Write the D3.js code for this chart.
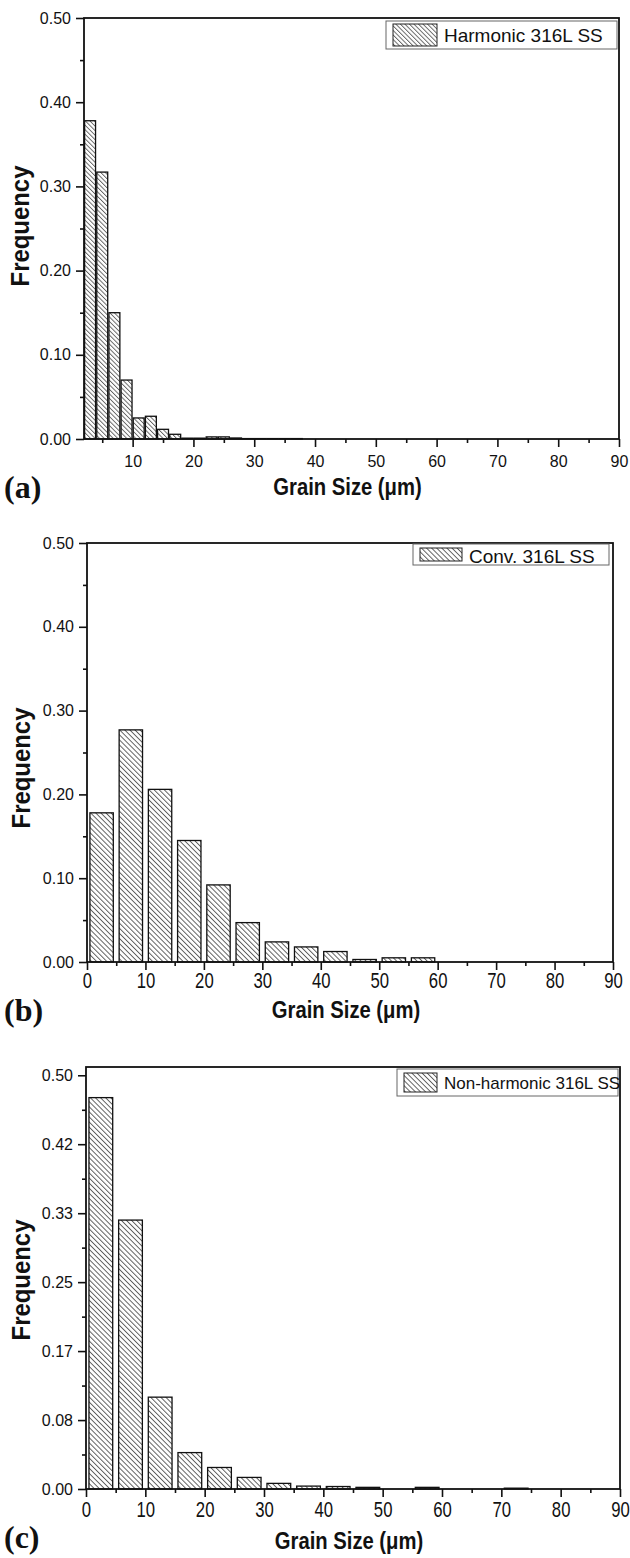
<!DOCTYPE html>
<html lang="en">
<head>
  <meta charset="UTF-8">
  <script src="https://d3js.org/d3.v7.min.js"></script>
  <title>Grain size distribution</title>
  <style>
    body { margin: 0; background: #fff; }
    svg { display: block; font-family: "Liberation Sans", Arial, sans-serif; }
  </style>
</head>
<body>
<svg id="chart" width="630" height="1558"></svg>
<script>
  // (a) harmonic 316L SS, 2 um bins
  const harmonicBins = [2, 4, 6, 8, 10, 12, 14, 16, 18, 20, 22, 24, 26, 28, 30, 32, 34, 36];
  const harmonicFreq = [0.378, 0.317, 0.150, 0.070, 0.025, 0.027, 0.0115, 0.0056, 0.001, 0.001,
                        0.0025, 0.0025, 0.0012, 0.0005, 0.0005, 0.0005, 0.0005, 0.0005];

  // (b) conventional 316L SS, 5 um bins
  const convBins = [0, 5, 10, 15, 20, 25, 30, 35, 40, 45, 50, 55];
  const convFreq = [0.178, 0.277, 0.206, 0.145, 0.092, 0.047, 0.024, 0.018, 0.0125, 0.003, 0.005, 0.005];

  // (c) non-harmonic 316L SS, 5 um bins
  const nonHarmBins = [0, 5, 10, 15, 20, 25, 30, 35, 40, 45, 50, 55, 60, 65, 70];
  const nonHarmFreq = [0.473, 0.325, 0.111, 0.044, 0.026, 0.014, 0.0068, 0.0035, 0.003, 0.002,
                       0, 0.002, 0, 0, 0.001];

  const xTicksA = [10, 20, 30, 40, 50, 60, 70, 80, 90];
  const xTicks = [0, 10, 20, 30, 40, 50, 60, 70, 80, 90];
  const xMinor = [5, 15, 25, 35, 45, 55, 65, 75, 85];
  const yTicks = [0, 0.1, 0.2, 0.3, 0.4, 0.5];
  const yLabels = ["0.00", "0.10", "0.20", "0.30", "0.40", "0.50"];
  const yMinor = [0.05, 0.15, 0.25, 0.35, 0.45];
  const yTicksC = [0, 0.0833, 0.1667, 0.25, 0.3333, 0.4167, 0.5];
  const yLabelsC = ["0.00", "0.08", "0.17", "0.25", "0.33", "0.42", "0.50"];
  const yMinorC = [0.0417, 0.125, 0.2083, 0.2917, 0.375, 0.4583];

  const svg = d3.select("#chart");

  // diagonal hatch like the origin plot
  const defs = svg.append("defs");
  [["hatchA", 3.2], ["hatchB", 3.6]].forEach(([id, gap]) => {
    defs.append("pattern")
      .attr("id", id)
      .attr("patternUnits", "userSpaceOnUse")
      .attr("width", gap)
      .attr("height", 10)
      .attr("patternTransform", "rotate(-45)")
      .call(p => p.append("rect").attr("width", gap).attr("height", 10).attr("fill", "#fff"))
      .append("line")
      .attr("x1", 0.5).attr("x2", 0.5)
      .attr("y1", 0).attr("y2", 10)
      .attr("stroke", "#333")
      .attr("stroke-width", 0.8);
  });

  const drawPanel = (p) => {
    const g = svg.append("g");
    const x = d3.scaleLinear().domain(p.xDomain).range([p.left, p.right]);
    const y = d3.scaleLinear().domain(p.yDomain).range([p.bottom, p.top]);

    const barW = (x(p.binW) - x(0)) * p.fill;
    const data = p.bins.map((b, i) => ({ x0: b, v: p.freq[i] })).filter(d => d.v > 0);

    g.selectAll("rect.bar")
      .data(data)
      .join("rect")
      .attr("class", "bar")
      .attr("x", d => x(d.x0 + p.binW / 2) - barW / 2)
      .attr("width", barW)
      .attr("y", d => y(d.v))
      .attr("height", d => y(0) - y(d.v))
      .attr("fill", `url(#${p.hatch})`)
      .attr("stroke", "#111")
      .attr("stroke-width", 1.3);

    // y axis, major + minor
    const yAxis = g.append("g")
      .attr("transform", `translate(${p.left},0)`)
      .call(d3.axisLeft(y).tickValues(p.yTicks).tickSize(8).tickSizeOuter(0).tickPadding(5)
        .tickFormat((d, i) => p.yLabels[i]));
    g.append("g")
      .attr("transform", `translate(${p.left},0)`)
      .call(d3.axisLeft(y).tickValues(p.yMinor).tickSize(4).tickSizeOuter(0).tickFormat(""));

    // x axis, major + minor
    const xAxis = g.append("g")
      .attr("transform", `translate(0,${p.bottom})`)
      .call(d3.axisBottom(x).tickValues(p.xTicks).tickSize(8).tickSizeOuter(0));
    g.append("g")
      .attr("transform", `translate(0,${p.bottom})`)
      .call(d3.axisBottom(x).tickValues(xMinor).tickSize(4).tickSizeOuter(0).tickFormat(""));

    g.selectAll(".domain").remove();
    g.selectAll(".tick line").attr("stroke", "#111").attr("stroke-width", 1.6);
    yAxis.selectAll("text").style("font-size", "16px").attr("fill", "#111");
    xAxis.selectAll("text")
      .style("font-size", p.xFont + "px")
      .attr("fill", "#111")
      .attr("dy", null)
      .attr("y", p.xLabelDy)
      .attr("transform", `scale(${p.xScaleX},1)`);

    // frame
    g.append("rect")
      .attr("x", p.left).attr("y", p.top)
      .attr("width", p.right - p.left).attr("height", p.bottom - p.top)
      .attr("fill", "none")
      .attr("stroke", "#111")
      .attr("stroke-width", 1.8);

    // legend
    const lg = p.legend;
    g.append("rect")
      .attr("x", lg.x).attr("y", lg.y).attr("width", lg.w).attr("height", lg.h)
      .attr("fill", "#fff").attr("stroke", "#666").attr("stroke-width", 1);
    g.append("rect")
      .attr("x", lg.x + 7).attr("y", lg.y + lg.sy).attr("width", lg.sw).attr("height", lg.h - 2 * lg.sy)
      .attr("fill", `url(#${p.hatch})`).attr("stroke", "#222").attr("stroke-width", 1);
    g.append("text")
      .attr("x", lg.x + lg.sw + 14).attr("y", lg.base)
      .style("font-size", lg.font + "px")
      .attr("fill", "#111")
      .text(p.name);

    // axis titles
    g.append("text")
      .attr("transform", `translate(${p.yTitleX},${p.yTitleY}) rotate(-90) scale(0.92,1)`)
      .attr("text-anchor", "middle")
      .style("font-size", "26px").style("font-weight", "bold")
      .attr("fill", "#111")
      .text("Frequency");
    g.append("text")
      .attr("transform", `translate(${(p.left + p.right) / 2 - 4},${p.xTitleY}) scale(0.88,1)`)
      .attr("text-anchor", "middle")
      .style("font-size", "23px").style("font-weight", "bold")
      .attr("fill", "#111")
      .text("Grain Size (μm)");
    g.append("text")
      .attr("x", 4).attr("y", p.tagY)
      .style("font-family", "'Liberation Serif', 'Times New Roman', serif")
      .style("font-size", "32px").style("font-weight", "bold")
      .attr("fill", "#111")
      .text(p.tag);
  };

  drawPanel({
    tag: "(a)", name: "Harmonic 316L SS", hatch: "hatchA",
    bins: harmonicBins, freq: harmonicFreq, binW: 2, fill: 0.9,
    xDomain: [2, 90], yDomain: [0, 0.5],
    left: 84, right: 619, top: 18, bottom: 439,
    xTicks: xTicksA, yTicks: yTicks, yLabels: yLabels, yMinor: yMinor,
    xFont: 16, xScaleX: 1, xLabelDy: 28,
    yTitleX: 29, yTitleY: 226, xTitleY: 495, tagY: 498,
    legend: { x: 386, y: 21, w: 231, h: 28, sy: 3, sw: 44, font: 19, base: 42 }
  });

  drawPanel({
    tag: "(b)", name: "Conv. 316L SS", hatch: "hatchB",
    bins: convBins, freq: convFreq, binW: 5, fill: 0.8,
    xDomain: [0, 90], yDomain: [0, 0.5],
    left: 87, right: 613, top: 543, bottom: 962,
    xTicks: xTicks, yTicks: yTicks, yLabels: yLabels, yMinor: yMinor,
    xFont: 22, xScaleX: 0.76, xLabelDy: 26,
    yTitleX: 30, yTitleY: 768, xTitleY: 1018, tagY: 1021,
    legend: { x: 413, y: 544, w: 196, h: 21, sy: 4, sw: 42, font: 19, base: 563 }
  });

  drawPanel({
    tag: "(c)", name: "Non-harmonic 316L SS", hatch: "hatchB",
    bins: nonHarmBins, freq: nonHarmFreq, binW: 5, fill: 0.8,
    xDomain: [0, 90], yDomain: [0, 0.51],
    left: 86, right: 620, top: 1067, bottom: 1489,
    xTicks: xTicks, yTicks: yTicksC, yLabels: yLabelsC, yMinor: yMinorC,
    xFont: 22, xScaleX: 0.76, xLabelDy: 28,
    yTitleX: 30, yTitleY: 1280, xTitleY: 1549, tagY: 1548,
    legend: { x: 397, y: 1069, w: 221, h: 27, sy: 4, sw: 33, font: 17, base: 1089 }
  });
</script>
</body>
</html>
